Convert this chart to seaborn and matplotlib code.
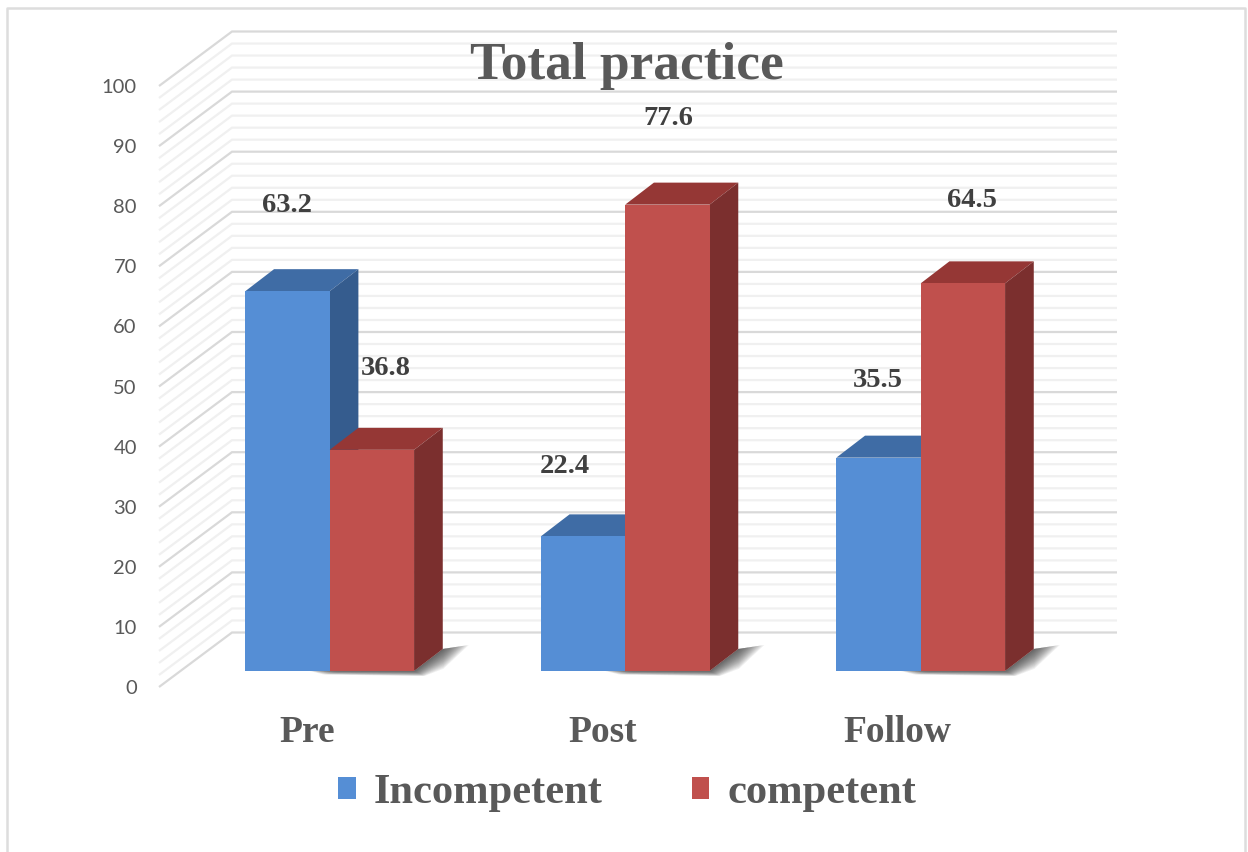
import pandas as pd
import numpy as np
import matplotlib
matplotlib.use('Agg')
import matplotlib.pyplot as plt
from matplotlib.patches import Patch, Polygon
import seaborn as sns

# Data
groups = ['Pre', 'Post', 'Follow']
incompetent = [63.2, 22.4, 35.5]
competent = [36.8, 77.6, 64.5]
y_ticks = list(range(0, 101, 10))
minor_steps = list(range(0, 101, 2))

df = pd.DataFrame({
    'Group': groups * 2,
    'Level': ['Incompetent'] * 3 + ['competent'] * 3,
    'Percent': incompetent + competent,
})

# Colours: front, top, side
blue = ('#558ED5', '#3F6CA5', '#355C8E')
red = ('#C0504D', '#953735', '#7B2F2E')
text_grey = '#595959'

W, H = 1248, 852
PX_CAT = 295.5   # pixels between categories
PX_VAL = 6.01    # pixels per percent
X0, Y0 = 329.7, 671  # pixel of first category centre / front baseline

sns.set_style('white')
plt.rcParams['font.family'] = ['Liberation Serif', 'DejaVu Sans']


def px_x(p):
    return (p - X0) / PX_CAT


def px_y(p):
    return (Y0 - p) / PX_VAL


fig = plt.figure(figsize=(W / 100, H / 100), dpi=100)
ax = fig.add_axes([0, 0, 1, 1])
ax.patch.set_alpha(0)

sns.barplot(data=df, x='Group', y='Percent', hue='Level', order=groups,
            palette=[blue[0], red[0]], width=0.571, gap=0, saturation=1,
            legend=False, ax=ax, zorder=3, linewidth=0)
ax.set_xlim(px_x(0), px_x(W))
ax.set_ylim(px_y(H), px_y(0))
ax.set_xlabel('')
ax.set_ylabel('')
ax.set_xticks([])
ax.set_yticks([])
for s in ax.spines.values():
    s.set_visible(False)

# Back wall and side wall gridlines
for v in minor_steps:
    major = v % 10 == 0
    col = '#D9D9D9' if major else '#F0F0F0'
    xs = [px_x(159), px_x(232), px_x(1117)]
    ys = [v + px_y(687), v + px_y(632.5), v + px_y(632.5)]
    ax.plot(xs, ys, color=col, lw=1.6, zorder=1 if not major else 1.1,
            solid_capstyle='butt', solid_joinstyle='miter')

# Depth faces and shadows worked out from the bars seaborn drew
dx = 28.7 / PX_CAT
dy = 22 / PX_VAL
offsets = [[(-1, 86), (-18, 70), (-1, 77)], [(14, 81), (1, 86), (9, 83)]]
for j, (bars, cols) in enumerate(zip(ax.containers, [blue, red])):
    z = 2 + j * 2
    for i, bar in enumerate(bars):
        x0 = bar.get_x()
        x1 = x0 + bar.get_width()
        h = bar.get_height()
        bar.set_zorder(z + 1)
        ax.add_patch(Polygon([(x0, h), (x1, h), (x1 + dx, h + dy), (x0 + dx, h + dy)],
                             facecolor=cols[1], edgecolor='none', zorder=z))
        ax.add_patch(Polygon([(x1, 0), (x1, h), (x1 + dx, h + dy), (x1 + dx, dy)],
                             facecolor=cols[2], edgecolor='none', zorder=z))
        if j == 1:
            # soft shadow, stacked see-through layers
            for s in np.linspace(1, 0.05, 16):
                ext = s * 26 / PX_CAT
                low = s * 5 / PX_VAL
                start = x0 - s * 20 / PX_CAT
                ax.add_patch(Polygon([(start, 0), (x1, 0), (x1 + dx, dy),
                                      (x1 + dx + ext, dy + s * 4 / PX_VAL),
                                      (x1 + dx * (1 - s * 0.25) + ext * 0.3, dy * (1 - s * 0.9)),
                                      (x1 + ext * 0.4, -low),
                                      (x1, -low), (start + 14 / PX_CAT, -low * 0.7)],
                                     facecolor='#2a2a2a', edgecolor='none',
                                     alpha=0.07, zorder=1.5))
        off = offsets[j][i]
        ax.annotate(f'{h:.1f}', (x0 + bar.get_width() / 2, h), xytext=off,
                    textcoords='offset pixels', ha='center', va='center',
                    fontsize=20.5, fontweight='bold', color='#404040', zorder=8)

# Category labels under the floor
for i, g in enumerate(groups):
    ax.text(i - 23 / PX_CAT, px_y(733), g, ha='center', va='center',
            fontsize=27, fontweight='bold', color=text_grey)

ax.text(px_x(626.5), px_y(66), 'Total practice', ha='center', va='center',
        fontsize=38.4, fontweight='bold', color=text_grey, zorder=9)

# Value axis on its own axes, it sits on the front edge of the side wall
tick_ax = fig.add_axes([159 / W, 1 - 687 / H, 1 / W, 601 / H])
tick_ax.patch.set_alpha(0)
tick_ax.set_ylim(0, 100)
tick_ax.set_xticks([])
tick_ax.set_yticks(y_ticks)
tick_ax.set_yticklabels([str(t) for t in y_ticks], family=['Lato', 'DejaVu Sans'],
                        fontsize=14.5, color=text_grey)
tick_ax.tick_params(axis='y', length=0, pad=16)
for s in tick_ax.spines.values():
    s.set_visible(False)

# Outer border, open at the bottom
ax.plot([px_x(7), px_x(7), px_x(1245), px_x(1245)],
        [px_y(H), px_y(8), px_y(8), px_y(H)], color='#DDDDDD', lw=1.8, zorder=0.5)

handles = [Patch(facecolor=blue[0], edgecolor='none', label='Incompetent'),
           Patch(facecolor=red[0], edgecolor='none', label='competent')]
leg = fig.legend(handles=handles, loc='center', bbox_to_anchor=(627 / W, 1 - 793 / H),
                 ncol=2, frameon=False, handlelength=0.42, handleheight=0.42,
                 handletextpad=0.42, columnspacing=2.1, labelcolor=text_grey,
                 prop={'family': 'Liberation Serif', 'weight': 'bold', 'size': 30.6})

fig.savefig('out.png', dpi=100)
